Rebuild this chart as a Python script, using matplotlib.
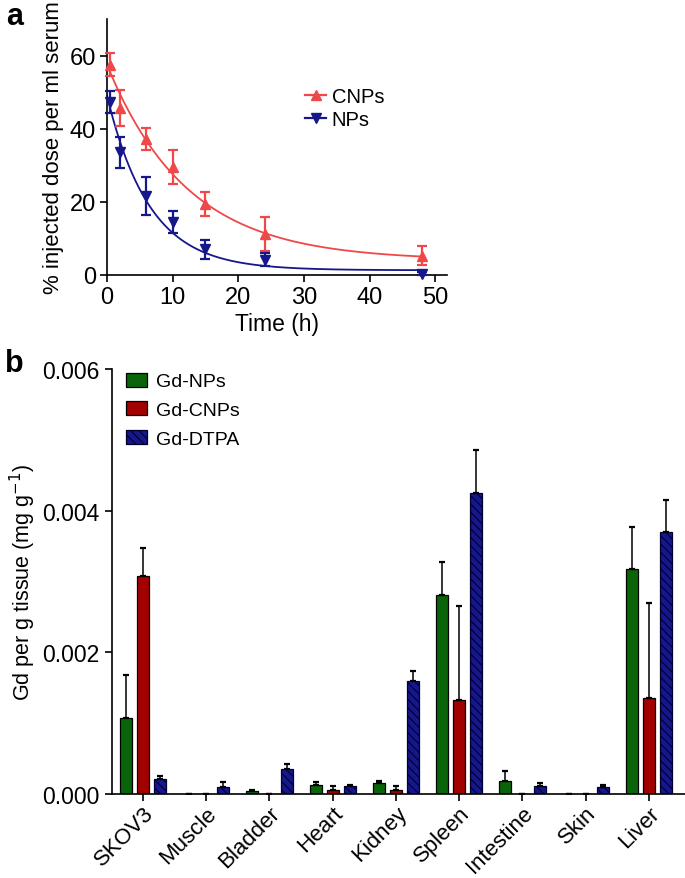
import numpy as np
import matplotlib
matplotlib.use("Agg")
import matplotlib.pyplot as plt
from matplotlib.lines import Line2D

plt.rcParams['font.family'] = ['Liberation Sans', 'DejaVu Sans']
plt.rcParams['hatch.linewidth'] = 0.8

# Panel a: serum clearance
time_h = [0.5, 2, 6, 10, 15, 24, 48]
cnp_mean = [57.5, 45.7, 37.2, 29.6, 19.3, 11.2, 5.2]
cnp_err = [3.2, 5.0, 3.0, 4.6, 3.3, 4.7, 2.6]
np_mean = [47.2, 33.5, 21.6, 14.6, 7.0, 4.2, 0.4]
np_err = [3.0, 4.2, 5.3, 3.0, 2.7, 1.7, 0.3]

# one-phase decay fits: (y0, plateau, k)
cnp_fit = (57.5, 4.0, 0.082)
np_fit = (49.0, 1.3, 0.154)

# Panel b: biodistribution
organs = ['SKOV3', 'Muscle', 'Bladder', 'Heart', 'Kidney', 'Spleen', 'Intestine', 'Skin', 'Liver']
gd_nps = [0.00107, 0.000005, 0.000038, 0.00013, 0.00015, 0.00281, 0.00018, 0.000004, 0.00317]
gd_nps_err = [0.00061, 0.0, 0.000012, 0.00004, 0.00004, 0.00047, 0.00015, 0.0, 0.0006]
gd_cnps = [0.00308, 0.000005, 0.000004, 0.000056, 0.00006, 0.00133, 0.000005, 0.000005, 0.00135]
gd_cnps_err = [0.00039, 0.0, 0.0, 0.000055, 0.00005, 0.00133, 0.0, 0.0, 0.00134]
gd_dtpa = [0.000207, 0.000103, 0.000347, 0.000117, 0.00159, 0.00425, 0.000117, 0.000094, 0.0037]
gd_dtpa_err = [0.000047, 0.00007, 0.00007, 0.00001, 0.00015, 0.00061, 0.000035, 0.000033, 0.00045]

red = '#ef4848'
navy = '#15178a'

fig = plt.figure(figsize=(6.85, 8.79), dpi=100)

# ---- panel a ----
ax1 = fig.add_axes([107/685, 1-276/879, 340/685, 256/879])
t = np.linspace(0, 48, 300)
for fit, col in [(cnp_fit, red), (np_fit, navy)]:
    y0, plat, k = fit
    ax1.plot(t, (y0 - plat)*np.exp(-k*t) + plat, color=col, lw=1.3, zorder=2)

ax1.errorbar(time_h, cnp_mean, yerr=cnp_err, fmt='^', color=red, ms=6.5,
             capsize=3.3, elinewidth=1.6, capthick=1.6, clip_on=False, zorder=3)
ax1.errorbar(time_h, np_mean, yerr=np_err, fmt='v', color=navy, ms=6.5,
             capsize=3.3, elinewidth=1.6, capthick=1.6, clip_on=False, zorder=3)

ax1.set_xlim(0, 51.8)
ax1.set_ylim(0, 70)
ax1.set_xticks([0, 10, 20, 30, 40, 50])
ax1.set_yticks([0, 20, 40, 60])
ax1.spines[['top', 'right']].set_visible(False)
for s in ax1.spines.values():
    s.set_linewidth(1.2)
ax1.tick_params(labelsize=17, width=1.2, length=5, pad=3)
ax1.set_xlabel('Time (h)', fontsize=16.5, labelpad=3)
ax1.set_ylabel('% injected dose per ml serum', fontsize=16, labelpad=4)

handles = [Line2D([], [], color=red, marker='^', ms=6.5, lw=1.6),
           Line2D([], [], color=navy, marker='v', ms=6.5, lw=1.6)]
ax1.legend(handles, ['CNPs', 'NPs'], loc='upper left', bbox_to_anchor=(0.56, 0.765),
           frameon=False, fontsize=14.5, handlelength=1.0, handletextpad=0.3,
           labelspacing=0.2, borderaxespad=0)

fig.text(6/685, 1-17/879, 'a', fontsize=22, fontweight='bold', ha='left', va='center')

# ---- panel b ----
ax2 = fig.add_axes([112/685, 1-795/879, 573/685, 425/879])
x = np.arange(len(organs))
off = 0.27
w = 0.19
ekw = dict(elinewidth=1.1, capsize=2.5, capthick=1.6, ecolor='black')
ax2.bar(x - off, gd_nps, w, color='#0a650a', edgecolor='black', lw=0.9,
        yerr=[np.zeros(len(x)), gd_nps_err], error_kw=ekw, label='Gd-NPs')
ax2.bar(x, gd_cnps, w, color='#a30000', edgecolor='black', lw=0.9,
        yerr=[np.zeros(len(x)), gd_cnps_err], error_kw=ekw, label='Gd-CNPs')
ax2.bar(x + off, gd_dtpa, w, color=navy, edgecolor='#000030', lw=0.9, hatch='\\\\\\\\',
        yerr=[np.zeros(len(x)), gd_dtpa_err], error_kw=ekw, label='Gd-DTPA')

ax2.set_xlim(-0.49, 8.57)
ax2.set_ylim(0, 0.006)
ax2.set_yticks([0, 0.002, 0.004, 0.006])
ax2.set_yticklabels(['0.000', '0.002', '0.004', '0.006'])
ax2.set_xticks(x)
ax2.set_xticklabels(organs, rotation=45, ha='right', rotation_mode='anchor')
ax2.spines[['top', 'right']].set_visible(False)
for s in ax2.spines.values():
    s.set_linewidth(1.2)
ax2.tick_params(axis='y', labelsize=16.5, width=1.2, length=5, pad=4)
ax2.tick_params(axis='x', labelsize=16, width=1.2, length=5, pad=1)
ax2.set_ylabel('Gd per g tissue (mg g$^{-1}$)', fontsize=15.5, labelpad=3)
ax2.legend(loc='upper left', bbox_to_anchor=(0.01, 1.01), frameon=False, fontsize=14,
           handlelength=1.1, handleheight=0.75, handletextpad=0.45, labelspacing=0.55,
           borderaxespad=0)

fig.text(5/685, 1-364/879, 'b', fontsize=22, fontweight='bold', ha='left', va='center')

fig.savefig('out.png', dpi=100)
